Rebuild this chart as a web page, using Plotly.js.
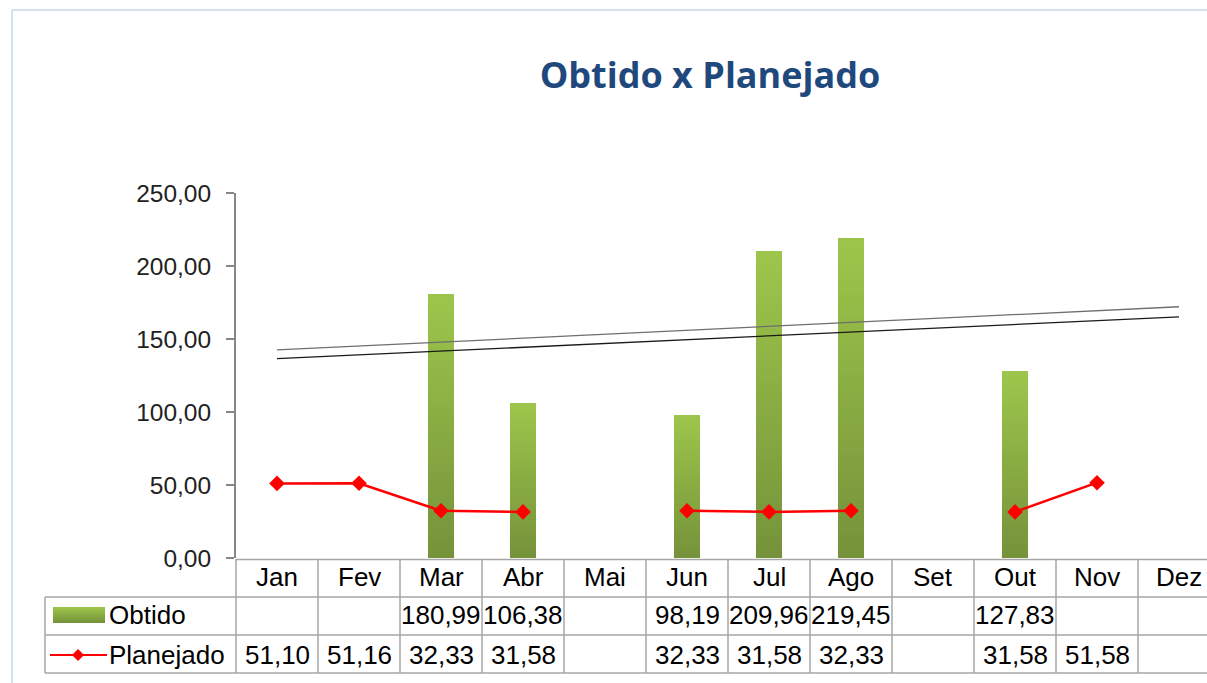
<!DOCTYPE html>
<html>
<head>
<meta charset="utf-8">
<script src="https://cdn.plot.ly/plotly-3.0.1.min.js"></script>
<style>
html,body{margin:0;padding:0;overflow:hidden;background:#fff;}
#chart{width:1222px;height:683px;}
</style>
</head>
<body>
<div id="chart"></div>
<script>
// ---- data ----
const months = ['Jan','Fev','Mar','Abr','Mai','Jun','Jul','Ago','Set','Out','Nov','Dez'];
const obtido = [null,null,180.99,106.38,null,98.19,209.96,219.45,null,127.83,null,null];
const planejado = [51.10,51.16,32.33,31.58,null,32.33,31.58,32.33,null,31.58,51.58,null];
// two straight trend lines (endpoints)
const trendX = ['Jan','Dez'];
const trendUpper = [142.5,172.1];
const trendLower = [136.5,165.2];
const yTicks = [0,50,100,150,200,250];

// ---- geometry helpers (pixel -> paper) ----
const L = 236, W = 984, T = 193, H = 365;
const px = p => (p - L) / W;
const py = p => (558 - p) / H;
const fmt = v => v === null ? '' : v.toFixed(2).replace('.', ',');

// ---- gradient bars via stacked slices ----
const N = 40;
const c0 = [0x76,0x92,0x3A], c1 = [0x9D,0xC6,0x4B];
const traces = [];
for (let k = 0; k < N; k++) {
  const t = (k + 0.5) / N;
  const col = 'rgb(' + c0.map((c,i)=>Math.round(c + (c1[i]-c)*t)).join(',') + ')';
  traces.push({
    type:'bar', x: months, y: obtido.map(v => v === null ? null : v / N),
    width: 0.32, marker:{color: col, line:{width:0}},
    showlegend:false, hoverinfo:'skip', name:'Obtido'
  });
}
traces.push({type:'scatter', mode:'lines', x: trendX, y: trendUpper,
  line:{color:'#6e6e6e', width:1.3}, showlegend:false, hoverinfo:'skip'});
traces.push({type:'scatter', mode:'lines', x: trendX, y: trendLower,
  line:{color:'#1a1a1a', width:1.3}, showlegend:false, hoverinfo:'skip'});
traces.push({type:'scatter', mode:'lines+markers', x: months, y: planejado,
  connectgaps:false, name:'Planejado',
  line:{color:'#FF0000', width:2.5},
  marker:{symbol:'diamond', size:12, color:'#FF0000'},
  showlegend:false, hoverinfo:'skip'});

// ---- data table shapes/annotations ----
const shapes = [];
const annotations = [];
const gridCol = '#a6a6a6';
// outer light-blue frame
shapes.push({type:'line', xref:'paper', yref:'paper', x0:px(12), x1:px(1230), y0:py(10), y1:py(10), line:{color:'#d5e1ef', width:2}});
shapes.push({type:'line', xref:'paper', yref:'paper', x0:px(12), x1:px(12), y0:py(10), y1:py(690), line:{color:'#d5e1ef', width:2}});
// horizontal lines
shapes.push({type:'line', xref:'paper', yref:'paper', x0:0, x1:1, y0:py(559.5), y1:py(559.5), line:{color:gridCol, width:1.5}});
[597, 635, 673].forEach(r => shapes.push({type:'line', xref:'paper', yref:'paper', x0:px(45), x1:1, y0:py(r), y1:py(r), line:{color:gridCol, width:1.5}}));
// left border
shapes.push({type:'line', xref:'paper', yref:'paper', x0:px(45), x1:px(45), y0:py(597), y1:py(673), line:{color:gridCol, width:1.5}});
// vertical lines at category boundaries
for (let i = 0; i <= months.length; i++) {
  const xp = i / months.length;
  shapes.push({type:'line', xref:'paper', yref:'paper', x0:xp, x1:xp, y0:py(559), y1:py(673), line:{color:gridCol, width:1.5}});
}
// legend swatches
for (let k = 0; k < 8; k++) {
  const t = (k + 0.5) / 8;
  const col = 'rgb(' + c0.map((c,i)=>Math.round(c + (c1[i]-c)*(1-t))).join(',') + ')';
  shapes.push({type:'rect', xref:'paper', yref:'paper', x0:px(53), x1:px(105),
    y0:py(607 + k*2), y1:py(607 + (k+1)*2), line:{width:0}, fillcolor:col});
}
shapes.push({type:'line', xref:'paper', yref:'paper', x0:px(50), x1:px(107), y0:py(655), y1:py(655), line:{color:'#FF0000', width:2}});
shapes.push({type:'path', xref:'paper', yref:'paper',
  path:`M ${px(78)} ${py(649)} L ${px(84)} ${py(655)} L ${px(78)} ${py(661)} L ${px(72)} ${py(655)} Z`,
  fillcolor:'#FF0000', line:{width:0}});

const tf = {family:'"Liberation Sans", Arial, sans-serif', size:26, color:'#000'};
annotations.push({xref:'paper', yref:'paper', x:px(107), y:py(615), text:'Obtido', showarrow:false, xanchor:'left', yanchor:'middle', font:tf});
annotations.push({xref:'paper', yref:'paper', x:px(107), y:py(655), text:'Planejado', showarrow:false, xanchor:'left', yanchor:'middle', font:tf});
months.forEach((m, i) => {
  annotations.push({xref:'x', yref:'paper', x:m, y:py(577), text:m, showarrow:false, xanchor:'center', yanchor:'middle', font:tf});
  if (obtido[i] !== null)
    annotations.push({xref:'x', yref:'paper', x:m, y:py(615), text:fmt(obtido[i]), showarrow:false, xanchor:'center', yanchor:'middle', font:tf});
  if (planejado[i] !== null)
    annotations.push({xref:'x', yref:'paper', x:m, y:py(655), text:fmt(planejado[i]), showarrow:false, xanchor:'center', yanchor:'middle', font:tf});
});

const layout = {
  width:1222, height:683,
  margin:{l:L, r:2, t:T, b:683-558},
  paper_bgcolor:'#fff', plot_bgcolor:'#fff',
  barmode:'stack', bargap:0,
  separators:',.',
  showlegend:false,
  hovermode:false,
  title:{text:'<b>Obtido x Planejado</b>', xref:'container', yref:'container', x:710/1222, y:1-75/683,
    xanchor:'center', yanchor:'middle',
    font:{family:'"Open Sans", sans-serif', size:36, color:'#1F497D'}},
  xaxis:{type:'category', categoryarray:months, range:[-0.5, 11.5], showticklabels:false,
    showgrid:false, zeroline:false, showline:false, ticks:''},
  yaxis:{range:[0,250], tickvals:yTicks, tickformat:'.2f', showgrid:false, zeroline:false,
    showline:true, linecolor:'#868686', linewidth:2, ticks:'outside', ticklen:8, tickcolor:'#868686', tickwidth:2,
    tickfont:{family:'"Liberation Sans", Arial, sans-serif', size:24.5, color:'#222'}, ticklabelstandoff:10},
  shapes:shapes,
  annotations:annotations
};
Plotly.newPlot('chart', traces, layout, {staticPlot:true, displayModeBar:false});
</script>
</body>
</html>
